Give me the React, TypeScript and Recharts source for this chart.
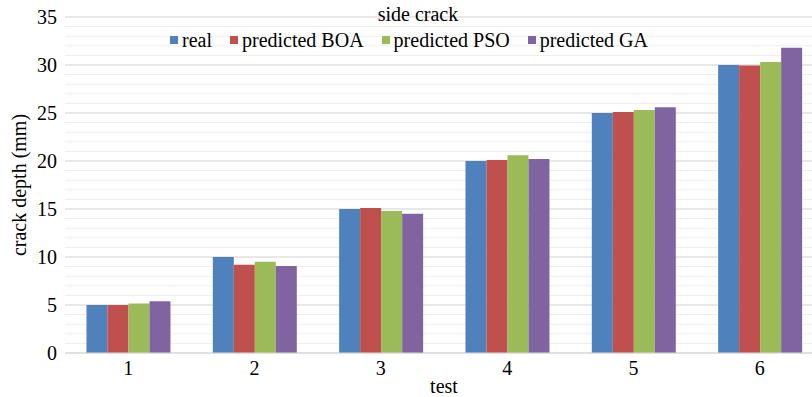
import { BarChart, Bar, XAxis, YAxis, CartesianGrid } from "recharts";

const tests = ["1", "2", "3", "4", "5", "6"];
const real = [5, 10, 15, 20, 25, 30];
const predictedBOA = [5, 9.2, 15.1, 20.1, 25.1, 29.95];
const predictedPSO = [5.15, 9.5, 14.8, 20.6, 25.3, 30.3];
const predictedGA = [5.4, 9.05, 14.5, 20.2, 25.6, 31.8];

const majorTicks = [0, 5, 10, 15, 20, 25, 30, 35];
const minorTicks = Array.from({ length: 36 }, (_, i) => i);

const series = [
  { key: "real", name: "real", color: "#4F81BD" },
  { key: "boa", name: "predicted BOA", color: "#C0504D" },
  { key: "pso", name: "predicted PSO", color: "#9BBB59" },
  { key: "ga", name: "predicted GA", color: "#8064A2" },
];

const data = tests.map((t, i) => ({
  test: t,
  real: real[i],
  boa: predictedBOA[i],
  pso: predictedPSO[i],
  ga: predictedGA[i],
}));

const FONT = "Times New Roman, Liberation Serif, Tinos, DejaVu Serif, serif";

export default function App() {
  return (
    <div
      style={{
        position: "fixed",
        left: 0,
        top: 0,
        width: 812,
        height: 397,
        overflow: "hidden",
        background: "#fff",
        fontFamily: FONT,
      }}
    >
      <div
        style={{
          position: "absolute",
          left: 0,
          top: 3,
          width: 836,
          textAlign: "center",
          fontSize: 20,
          lineHeight: "22px",
          zIndex: 2,
        }}
      >
        side crack
      </div>
      {/* legend sits over the plot, so it is laid out by hand */}
      <div
        style={{
          position: "absolute",
          left: 0,
          top: 29,
          width: 836,
          display: "flex",
          justifyContent: "center",
          alignItems: "center",
          fontSize: 20,
          lineHeight: "22px",
          zIndex: 2,
        }}
      >
        {series.map((s) => (
          <div
            key={s.key}
            style={{ display: "flex", alignItems: "center", marginRight: 18 }}
          >
            <span
              style={{
                display: "inline-block",
                width: 8,
                height: 8,
                background: s.color,
                marginRight: 4,
              }}
            />
            <span>{s.name}</span>
          </div>
        ))}
      </div>
      <BarChart
        width={830}
        height={397}
        data={data}
        margin={{ top: 17, right: 7, bottom: 0, left: 0 }}
        barCategoryGap="17%"
        barGap={0}
      >
        <CartesianGrid
          vertical={false}
          horizontalValues={minorTicks}
          stroke="#eeeeee"
        />
        <CartesianGrid
          vertical={false}
          horizontalValues={majorTicks}
          stroke="#d9d9d9"
        />
        <XAxis
          dataKey="test"
          height={44}
          tickLine={false}
          axisLine={{ stroke: "#d9d9d9" }}
          tick={{ fill: "#000", fontSize: 20, fontFamily: FONT }}
          tickMargin={2}
          label={{
            value: "test",
            position: "insideBottom",
            offset: 4,
            fill: "#000",
            fontSize: 20,
            fontFamily: FONT,
          }}
        />
        <YAxis
          width={65}
          domain={[0, 35]}
          ticks={majorTicks}
          interval={0}
          tickLine={false}
          axisLine={false}
          tick={{ fill: "#000", fontSize: 20, fontFamily: FONT }}
          label={{
            value: "crack depth (mm)",
            angle: -90,
            position: "center",
            dx: -14,
            fill: "#000",
            fontSize: 20,
            fontFamily: FONT,
          }}
        />
        {series.map((s) => (
          <Bar
            key={s.key}
            dataKey={s.key}
            name={s.name}
            fill={s.color}
            isAnimationActive={false}
          />
        ))}
      </BarChart>
    </div>
  );
}
